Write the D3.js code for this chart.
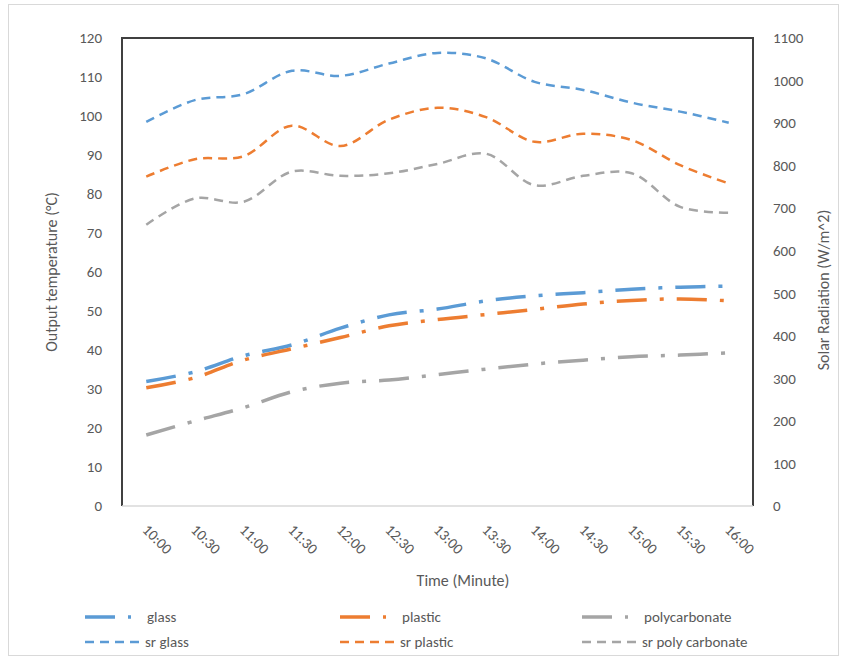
<!DOCTYPE html>
<html>
<head>
<meta charset="utf-8">
<script src="https://cdn.jsdelivr.net/npm/d3@7"></script>
<style>
  html, body { margin: 0; padding: 0; background: #fff; }
  text { font-family: Calibri, Carlito, "Liberation Sans", Arial, sans-serif; fill: #595959; }
</style>
</head>
<body>
<svg id="chart" width="843" height="660"></svg>
<script>
// ---- data ----
const times = ["10:00","10:30","11:00","11:30","12:00","12:30","13:00","13:30","14:00","14:30","15:00","15:30","16:00"];
const glass = [31.9, 34.4, 38.5, 41.3, 45.6, 49.0, 50.5, 52.6, 53.9, 54.7, 55.6, 56.1, 56.4];
const plastic = [30.3, 32.9, 37.4, 40.3, 43.2, 46.2, 47.8, 49.1, 50.4, 51.8, 52.7, 53.1, 52.6];
const polycarbonate = [18.2, 21.8, 25.2, 29.3, 31.5, 32.3, 33.7, 35.1, 36.4, 37.4, 38.3, 38.7, 39.3];
const srGlass = [903, 954, 968, 1023, 1011, 1040, 1065, 1052, 997, 978, 948, 927, 901];
const srPlastic = [774, 815, 822, 894, 846, 908, 936, 914, 856, 875, 860, 801, 758];
const srPoly = [661, 723, 715, 786, 776, 782, 804, 828, 754, 776, 782, 703, 689];
const leftTicks = [0,10,20,30,40,50,60,70,80,90,100,110,120];
const rightTicks = [0,100,200,300,400,500,600,700,800,900,1000,1100];

const colors = { glass: "#5B9BD5", plastic: "#ED7D31", poly: "#A5A5A5" };

const svg = d3.select("#chart");
const m = { left: 122, right: 753, top: 38, bottom: 506 };

// chart area border
svg.append("rect").attr("x", 8.5).attr("y", 4.5).attr("width", 830).attr("height", 651)
  .attr("fill", "none").attr("stroke", "#d9d9d9").attr("stroke-width", 1);

const x = d3.scaleBand().domain(times).range([m.left, m.right]).paddingInner(0).paddingOuter(0);
const cx = d => x(d) + x.bandwidth() / 2;
const yL = d3.scaleLinear().domain([0, 120]).range([m.bottom, m.top]);
const yR = d3.scaleLinear().domain([0, 1100]).range([m.bottom, m.top]);

// plot area frame
svg.append("path")
  .attr("d", `M${m.left},${m.bottom} L${m.left},${m.top} L${m.right},${m.top} L${m.right},${m.bottom}`)
  .attr("fill", "none").attr("stroke", "#404040").attr("stroke-width", 2);
svg.append("line").attr("x1", m.left).attr("x2", m.right).attr("y1", m.bottom).attr("y2", m.bottom)
  .attr("stroke", "#d9d9d9").attr("stroke-width", 1.5);

// left axis
const gL = svg.append("g").attr("transform", `translate(${m.left - 20},0)`)
  .call(d3.axisLeft(yL).tickValues(leftTicks).tickFormat(d3.format("d")).tickSize(0).tickPadding(0));
gL.select(".domain").remove();
gL.selectAll("text").attr("font-size", 15).attr("fill", "#595959").attr("font-family", null);

// right axis
const gR = svg.append("g").attr("transform", `translate(${m.right + 20},0)`)
  .call(d3.axisRight(yR).tickValues(rightTicks).tickFormat(d3.format("d")).tickSize(0).tickPadding(0));
gR.select(".domain").remove();
gR.selectAll("text").attr("font-size", 15).attr("fill", "#595959").attr("font-family", null);

// x axis labels
const gX = svg.append("g");
gX.selectAll("text").data(times).join("text")
  .attr("transform", d => `translate(${cx(d) - 1},${527}) rotate(45)`)
  .attr("dy", "0.35em")
  .attr("text-anchor", "start")
  .attr("font-size", 15)
  .text(d => d);

// axis titles
svg.append("text").attr("transform", `translate(57,272) rotate(-90)`)
  .attr("text-anchor", "middle").attr("font-size", 16).text("Output temperature (°C)");
svg.append("text").attr("transform", `translate(829,290) rotate(-90)`)
  .attr("text-anchor", "middle").attr("font-size", 16).text("Solar Radiation (W/m^2)");
svg.append("text").attr("x", 463).attr("y", 586)
  .attr("text-anchor", "middle").attr("font-size", 16).text("Time (Minute)");

// series
const dashDot = "30,13,4,13";
const dashed = "9,6";
const series = [
  { name: "glass", data: glass, scale: yL, color: colors.glass, dash: dashDot, w: 3.5 },
  { name: "plastic", data: plastic, scale: yL, color: colors.plastic, dash: dashDot, w: 3.5 },
  { name: "polycarbonate", data: polycarbonate, scale: yL, color: colors.poly, dash: dashDot, w: 3.5 },
  { name: "sr glass", data: srGlass, scale: yR, color: colors.glass, dash: dashed, w: 2.5 },
  { name: "sr plastic", data: srPlastic, scale: yR, color: colors.plastic, dash: dashed, w: 2.5 },
  { name: "sr poly carbonate", data: srPoly, scale: yR, color: colors.poly, dash: dashed, w: 2.5 }
];

series.forEach(s => {
  const line = d3.line()
    .x((d, i) => cx(times[i]))
    .y(d => s.scale(d))
    .curve(d3.curveCatmullRom.alpha(0.5));
  svg.append("path").datum(s.data)
    .attr("d", line)
    .attr("fill", "none")
    .attr("stroke", s.color)
    .attr("stroke-width", s.w)
    .attr("stroke-dasharray", s.dash);
});

// legend
const legendPos = [
  { x: 85, y: 617 }, { x: 340, y: 617 }, { x: 582, y: 617 },
  { x: 85, y: 642 }, { x: 340, y: 642 }, { x: 582, y: 642 }
];
series.forEach((s, i) => {
  const p = legendPos[i];
  const isTemp = i < 3;
  const len = isTemp ? 46 : 58;
  svg.append("line").attr("x1", p.x).attr("x2", p.x + len).attr("y1", p.y).attr("y2", p.y)
    .attr("stroke", s.color).attr("stroke-width", s.w).attr("stroke-dasharray", s.dash);
  svg.append("text").attr("x", isTemp ? p.x + 62 : p.x + 60).attr("y", p.y).attr("dy", "0.35em")
    .attr("font-size", 15).text(s.name);
});
</script>
</body>
</html>
